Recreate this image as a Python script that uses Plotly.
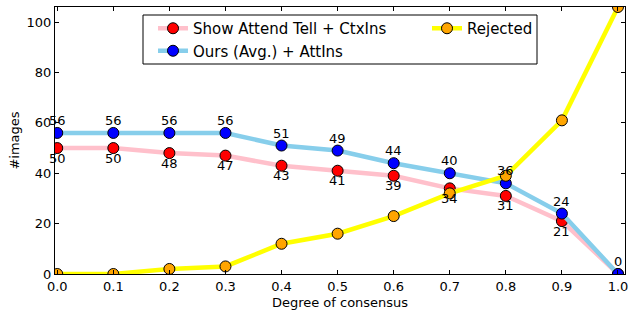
import plotly.graph_objects as go

# ---- data ----
degrees = [0.0, 0.1, 0.2, 0.3, 0.4, 0.5, 0.6, 0.7, 0.8, 0.9, 1.0]
sat_ctx = [50, 50, 48, 47, 43, 41, 39, 34, 31, 21, 0]
ours_att = [56, 56, 56, 56, 51, 49, 44, 40, 36, 24, 0]
rejected = [0, 0, 2, 3, 12, 16, 23, 32, 39, 61, 106]
y_ticks = [0, 20, 40, 60, 80, 100]
x_ticks = degrees

FONT = "DejaVu Sans"

# plot-area geometry (px) used only to place the legend frame
L, R, T, B, W, H = 55, 9, 7, 38, 634, 312
PW, PH = W - L - R, H - T - B


def px_x(p):
    return (p - L) / PW


def px_y(p):
    return (H - B - p) / PH


fig = go.Figure()

fig.add_trace(go.Scatter(
    x=degrees, y=sat_ctx, mode="lines+markers",
    name="Show Attend Tell + CtxIns", legend="legend",
    line=dict(color="#ffc0cb", width=4.5),
    marker=dict(color="#ff0000", size=11, line=dict(color="black", width=1)),
))
fig.add_trace(go.Scatter(
    x=degrees, y=ours_att, mode="lines+markers",
    name="Ours (Avg.) + AttIns", legend="legend",
    line=dict(color="#87ceeb", width=4.5),
    marker=dict(color="#0000ff", size=11, line=dict(color="black", width=1)),
))
fig.add_trace(go.Scatter(
    x=degrees, y=rejected, mode="lines+markers",
    name="Rejected", legend="legend2",
    line=dict(color="#ffff00", width=4.5),
    marker=dict(color="#ffa500", size=11, line=dict(color="black", width=1)),
))

annotations = []
for xv, yv in zip(degrees, ours_att):
    annotations.append(dict(x=xv, y=yv, xref="x", yref="y", text=str(yv),
                            showarrow=False, yshift=12.5, yanchor="middle",
                            font=dict(family=FONT, size=13, color="black")))
for xv, yv in zip(degrees[:-1], sat_ctx[:-1]):
    annotations.append(dict(x=xv, y=yv, xref="x", yref="y", text=str(yv),
                            showarrow=False, yshift=-10, yanchor="middle",
                            font=dict(family=FONT, size=13, color="black")))

legend_common = dict(
    orientation="v", yanchor="top", xanchor="left",
    bgcolor="rgba(0,0,0,0)", borderwidth=0,
    font=dict(family=FONT, size=15, color="black"),
    traceorder="normal",
)

fig.update_layout(
    width=W, height=H,
    margin=dict(l=L, r=R, t=T, b=B, autoexpand=False),
    paper_bgcolor="white", plot_bgcolor="white",
    font=dict(family=FONT, size=13, color="black"),
    showlegend=True,
    legend=dict(x=px_x(153), y=px_y(12), **legend_common),
    legend2=dict(x=px_x(427), y=px_y(12), **legend_common),
    shapes=[dict(type="rect", xref="paper", yref="paper",
                 x0=px_x(143), x1=px_x(537), y0=px_y(64), y1=px_y(15),
                 line=dict(color="black", width=1), fillcolor="white",
                 layer="above")],
    annotations=annotations,
    xaxis=dict(
        range=[-0.004, 1.0125], tickvals=x_ticks, tickformat=".1f",
        ticks="inside", ticklen=4, tickcolor="black",
        showline=True, linecolor="black", linewidth=1, mirror="ticks",
        showgrid=False, zeroline=False, automargin=False,
        title=dict(text="Degree of consensus", standoff=5,
                   font=dict(family=FONT, size=13)),
    ),
    yaxis=dict(
        range=[0, 106], tickvals=y_ticks,
        ticks="inside", ticklen=4, tickcolor="black",
        showline=True, linecolor="black", linewidth=1, mirror="ticks",
        showgrid=False, zeroline=False, automargin=False,
        title=dict(text="#images", standoff=4,
                   font=dict(family=FONT, size=13)),
    ),
)

fig.write_html(
    "out.html",
    config={"displayModeBar": False},
    post_script="document.body.style.margin='0';document.body.style.overflow='hidden';",
)
